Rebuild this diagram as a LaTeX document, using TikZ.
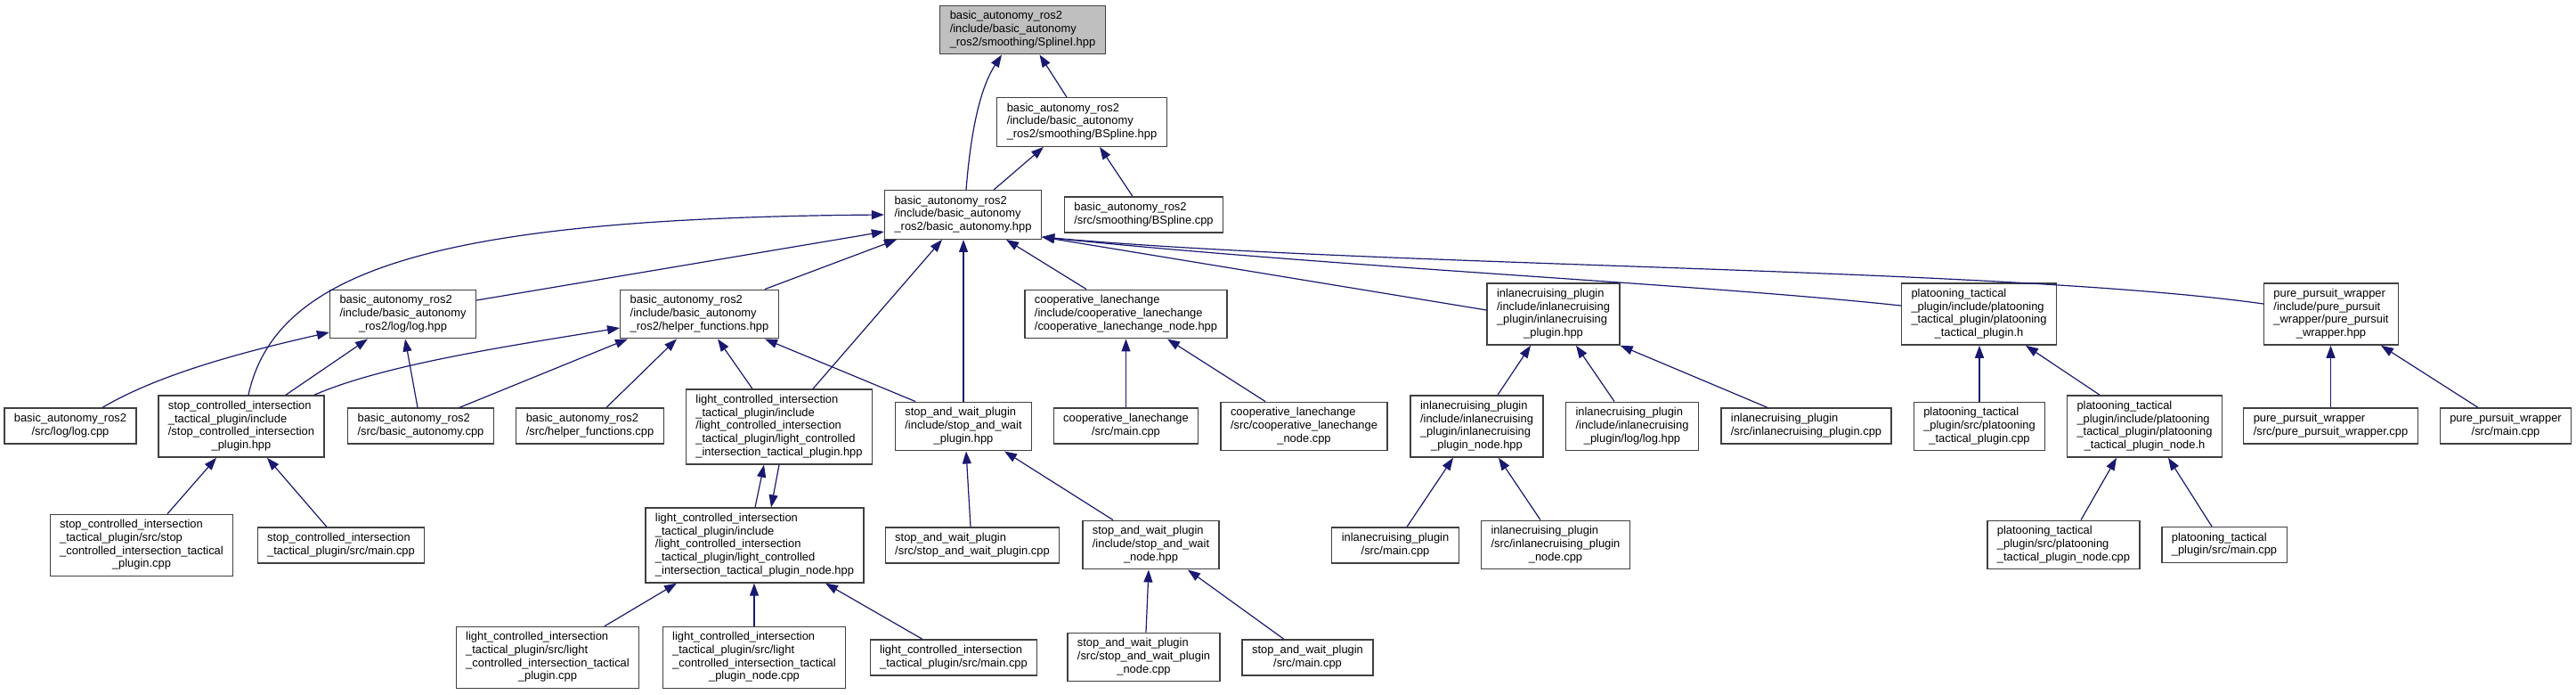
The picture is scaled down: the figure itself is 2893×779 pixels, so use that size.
\documentclass[tikz,border=0pt]{standalone}
\usepackage{fontspec}
\setmainfont{Liberation Sans}
\usetikzlibrary{arrows.meta}
\definecolor{EdgeBlue}{HTML}{191970}
\definecolor{BoxGrey}{HTML}{404040}
\definecolor{RootFill}{HTML}{BFBFBF}
% all lines left, the last one centred
\newcommand{\flines}[2]{\begin{tabular}{@{}l@{}}#1\\\multicolumn{1}{@{}c@{}}{#2}\end{tabular}}

\begin{document}
\begin{tikzpicture}[
  x=1pt,y=-1pt,
  doc/.style={draw=BoxGrey,line width=1.3pt,fill=white,inner xsep=11pt,inner ysep=5.3pt,
    font=\fontsize{12.9}{14.67}\selectfont},
  root/.style={doc,fill=RootFill},
  inc/.style={-{Triangle[length=14pt,width=10pt]},line width=1.2pt,color=EdgeBlue}
]
\useasboundingbox (0,0) rectangle (2893,779);
% row 1
\node[root] (splinei) at (1148.5,33.5) {\flines{basic\_autonomy\_ros2\\/include/basic\_autonomy}{\_ros2/smoothing/SplineI.hpp}};
% row 2
\node[doc] (bsplhpp) at (1215,137) {\flines{basic\_autonomy\_ros2\\/include/basic\_autonomy}{\_ros2/smoothing/BSpline.hpp}};
% row 3
\node[doc] (autohpp) at (1081.5,241) {\flines{basic\_autonomy\_ros2\\/include/basic\_autonomy}{\_ros2/basic\_autonomy.hpp}};
\node[doc] (bsplcpp) at (1284.5,241) {\flines{basic\_autonomy\_ros2}{/src/smoothing/BSpline.cpp}};
% row 4
\node[doc] (loghpp) at (452.5,352.5) {\flines{basic\_autonomy\_ros2\\/include/basic\_autonomy}{\_ros2/log/log.hpp}};
\node[doc] (helperhpp) at (785.5,352.5) {\flines{basic\_autonomy\_ros2\\/include/basic\_autonomy}{\_ros2/helper\_functions.hpp}};
\node[doc] (coophpp) at (1264.5,352.5) {\flines{cooperative\_lanechange\\/include/cooperative\_lanechange}{/cooperative\_lanechange\_node.hpp}};
\node[doc] (ilchpp) at (1744.5,352.5) {\flines{inlanecruising\_plugin\\/include/inlanecruising\\\_plugin/inlanecruising}{\_plugin.hpp}};
\node[doc] (plathpp) at (2222.5,352.5) {\flines{platooning\_tactical\\\_plugin/include/platooning\\\_tactical\_plugin/platooning}{\_tactical\_plugin.h}};
\node[doc] (purehpp) at (2618,352.5) {\flines{pure\_pursuit\_wrapper\\/include/pure\_pursuit\\\_wrapper/pure\_pursuit}{\_wrapper.hpp}};
% row 5
\node[doc] (logcpp) at (79,478) {\flines{basic\_autonomy\_ros2}{/src/log/log.cpp}};
\node[doc] (scihpp) at (271,478.5) {\flines{stop\_controlled\_intersection\\\_tactical\_plugin/include\\/stop\_controlled\_intersection}{\_plugin.hpp}};
\node[doc] (autocpp) at (472.5,478) {\flines{basic\_autonomy\_ros2}{/src/basic\_autonomy.cpp}};
\node[doc] (helpercpp) at (662.5,478) {\flines{basic\_autonomy\_ros2}{/src/helper\_functions.cpp}};
\node[doc] (lcihpp) at (875,479) {\flines{light\_controlled\_intersection\\\_tactical\_plugin/include\\/light\_controlled\_intersection\\\_tactical\_plugin/light\_controlled}{\_intersection\_tactical\_plugin.hpp}};
\node[doc] (swhpp) at (1082,478.5) {\flines{stop\_and\_wait\_plugin\\/include/stop\_and\_wait}{\_plugin.hpp}};
\node[doc] (coopmain) at (1264.5,478) {\flines{cooperative\_lanechange}{/src/main.cpp}};
\node[doc] (coopnode) at (1464.5,478.5) {\flines{cooperative\_lanechange\\/src/cooperative\_lanechange}{\_node.cpp}};
\node[doc] (ilcnodehpp) at (1658.5,478.5) {\flines{inlanecruising\_plugin\\/include/inlanecruising\\\_plugin/inlanecruising}{\_plugin\_node.hpp}};
\node[doc] (ilcloghpp) at (1833,478.5) {\flines{inlanecruising\_plugin\\/include/inlanecruising}{\_plugin/log/log.hpp}};
\node[doc] (ilcplugincpp) at (2028.5,478) {\flines{inlanecruising\_plugin}{/src/inlanecruising\_plugin.cpp}};
\node[doc] (platcpp) at (2223,478.5) {\flines{platooning\_tactical\\\_plugin/src/platooning}{\_tactical\_plugin.cpp}};
\node[doc] (platnodeh) at (2408.5,478.5) {\flines{platooning\_tactical\\\_plugin/include/platooning\\\_tactical\_plugin/platooning}{\_tactical\_plugin\_node.h}};
\node[doc] (purecpp) at (2617.5,478) {\flines{pure\_pursuit\_wrapper}{/src/pure\_pursuit\_wrapper.cpp}};
\node[doc] (puremain) at (2814,478) {\flines{pure\_pursuit\_wrapper}{/src/main.cpp}};
% row 6
\node[doc] (scisrc) at (159,612) {\flines{stop\_controlled\_intersection\\\_tactical\_plugin/src/stop\\\_controlled\_intersection\_tactical}{\_plugin.cpp}};
\node[doc] (scimain) at (383,612) {\flines{stop\_controlled\_intersection}{\_tactical\_plugin/src/main.cpp}};
\node[doc] (lcinodehpp) at (847.5,612) {\flines{light\_controlled\_intersection\\\_tactical\_plugin/include\\/light\_controlled\_intersection\\\_tactical\_plugin/light\_controlled}{\_intersection\_tactical\_plugin\_node.hpp}};
\node[doc] (swplugincpp) at (1092,612) {\flines{stop\_and\_wait\_plugin}{/src/stop\_and\_wait\_plugin.cpp}};
\node[doc] (swnodehpp) at (1292.5,611.5) {\flines{stop\_and\_wait\_plugin\\/include/stop\_and\_wait}{\_node.hpp}};
\node[doc] (ilcmain) at (1567,612) {\flines{inlanecruising\_plugin}{/src/main.cpp}};
\node[doc] (ilcnodecpp) at (1747,611.5) {\flines{inlanecruising\_plugin\\/src/inlanecruising\_plugin}{\_node.cpp}};
\node[doc] (platnodecpp) at (2317.5,611.5) {\flines{platooning\_tactical\\\_plugin/src/platooning}{\_tactical\_plugin\_node.cpp}};
\node[doc] (platmain) at (2498,611.5) {\flines{platooning\_tactical}{\_plugin/src/main.cpp}};
% row 7
\node[doc] (lcisrc) at (615,738) {\flines{light\_controlled\_intersection\\\_tactical\_plugin/src/light\\\_controlled\_intersection\_tactical}{\_plugin.cpp}};
\node[doc] (lcisrcnode) at (847,738) {\flines{light\_controlled\_intersection\\\_tactical\_plugin/src/light\\\_controlled\_intersection\_tactical}{\_plugin\_node.cpp}};
\node[doc] (lcimain) at (1071,738) {\flines{light\_controlled\_intersection}{\_tactical\_plugin/src/main.cpp}};
\node[doc] (swnodecpp) at (1284.5,737.5) {\flines{stop\_and\_wait\_plugin\\/src/stop\_and\_wait\_plugin}{\_node.cpp}};
\node[doc] (swmain) at (1468.5,738) {\flines{stop\_and\_wait\_plugin}{/src/main.cpp}};

% includes
\draw[inc] ([xshift=-17pt]bsplhpp.north) -- ([xshift=19pt]splinei.south);
\draw[inc] ([xshift=3.5pt]autohpp.north) .. controls (1090,150) and (1100,100) .. ([xshift=-23.5pt]splinei.south);
\draw[inc] ([xshift=34.5pt]autohpp.north) -- ([xshift=-43pt]bsplhpp.south);
\draw[inc] ([xshift=-12.5pt]bsplcpp.north) -- ([xshift=20pt]bsplhpp.south);
\draw[inc] ([yshift=15.5pt]loghpp.east) -- ([yshift=-19pt]autohpp.west);
\draw[inc] ([xshift=8pt]scihpp.north) .. controls (310,300) and (500,245) .. (autohpp.west);
\draw[inc] ([xshift=73.5pt]helperhpp.north) -- ([xshift=-74.5pt]autohpp.south);
\draw[inc] ([xshift=38pt]lcihpp.north) -- ([xshift=-23.5pt]autohpp.south);
\draw[inc] (swhpp.north) -- (swhpp.north |- autohpp.south);
\draw[inc] ([xshift=-44.5pt]coophpp.north) -- ([xshift=48.5pt]autohpp.south);
\draw[inc] ([yshift=4.5pt]ilchpp.west) -- ([yshift=-25pt]autohpp.east);
\draw[inc] ([yshift=9.5pt]plathpp.west) .. controls (1900,318) and (1500,300) .. ([yshift=-25pt]autohpp.east);
\draw[inc] ([yshift=11.5pt]purehpp.west) .. controls (2250,300) and (1550,300) .. ([yshift=-25pt]autohpp.east);
\draw[inc] ([xshift=36pt]logcpp.north) .. controls (170,425) and (250,400) .. ([yshift=-20.5pt]loghpp.west);
\draw[inc] ([xshift=50pt]scihpp.north) -- ([xshift=-39.5pt]loghpp.south);
\draw[inc] ([xshift=-3.5pt]autocpp.north) -- ([xshift=2.5pt]loghpp.south);
\draw[inc] ([xshift=82pt]scihpp.north) .. controls (430,410) and (560,390) .. ([yshift=-15.5pt]helperhpp.west);
\draw[inc] ([xshift=43.5pt]autocpp.north) -- ([xshift=-80.5pt]helperhpp.south);
\draw[inc] ([xshift=18.5pt]helpercpp.north) -- ([xshift=-25.5pt]helperhpp.south);
\draw[inc] ([xshift=-30pt]lcihpp.north) -- ([xshift=20.5pt]helperhpp.south);
\draw[inc] ([xshift=-54pt]swhpp.north) -- ([xshift=73.5pt]helperhpp.south);
\draw[inc] ([xshift=29pt]scisrc.north) -- ([xshift=-28pt]scihpp.south);
\draw[inc] ([xshift=-16pt]scimain.north) -- ([xshift=29pt]scihpp.south);
\draw[inc] ([xshift=0.5pt]lcinodehpp.north) -- ([xshift=-17pt]lcihpp.south);
\draw[inc] (lcihpp.south) -- ([xshift=18.5pt]lcinodehpp.north);
\draw[inc] ([xshift=64pt]lcisrc.north) -- ([xshift=-87.5pt]lcinodehpp.south);
\draw[inc] (lcisrcnode.north) -- (lcisrcnode.north |- lcinodehpp.south);
\draw[inc] ([xshift=-35pt]lcimain.north) -- ([xshift=79.5pt]lcinodehpp.south);
\draw[inc] ([xshift=-2pt]swplugincpp.north) -- ([xshift=3pt]swhpp.south);
\draw[inc] ([xshift=-42.5pt]swnodehpp.north) -- ([xshift=46pt]swhpp.south);
\draw[inc] ([xshift=2.5pt]swnodecpp.north) -- ([xshift=-2.5pt]swnodehpp.south);
\draw[inc] ([xshift=-26.5pt]swmain.north) -- ([xshift=41.5pt]swnodehpp.south);
\draw[inc] (coopmain.north) -- (coophpp.south);
\draw[inc] ([xshift=-43.5pt]coopnode.north) -- ([xshift=46.5pt]coophpp.south);
\draw[inc] ([xshift=23.5pt]ilcnodehpp.north) -- ([xshift=-25.5pt]ilchpp.south);
\draw[inc] ([xshift=-20pt]ilcloghpp.north) -- ([xshift=25.5pt]ilchpp.south);
\draw[inc] ([xshift=-43.5pt]ilcplugincpp.north) -- (ilchpp.south east);
\draw[inc] ([xshift=13pt]ilcmain.north) -- ([xshift=-26.5pt]ilcnodehpp.south);
\draw[inc] ([xshift=-17pt]ilcnodecpp.north) -- ([xshift=24.5pt]ilcnodehpp.south);
\draw[inc] (platcpp.north) -- (platcpp.north |- plathpp.south);
\draw[inc] ([xshift=-50.5pt]platnodeh.north) -- ([xshift=52.5pt]plathpp.south);
\draw[inc] ([xshift=19.5pt]platnodecpp.north) -- ([xshift=-31.5pt]platnodeh.south);
\draw[inc] ([xshift=-14pt]platmain.north) -- ([xshift=26.5pt]platnodeh.south);
\draw[inc] (purecpp.north) -- (purecpp.north |- purehpp.south);
\draw[inc] ([xshift=-31pt]puremain.north) -- ([xshift=56pt]purehpp.south);
\end{tikzpicture}
\end{document}
